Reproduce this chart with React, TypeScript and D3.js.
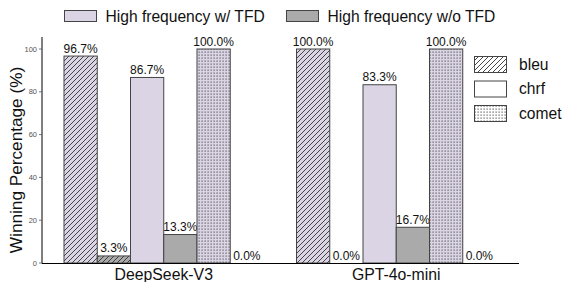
import React from "react";
import * as d3 from "d3";

const models = ["DeepSeek-V3", "GPT-4o-mini"];
const metrics = ["bleu", "chrf", "comet"];
const seriesNames = ["High frequency w/ TFD", "High frequency w/o TFD"];
const withTFD = [
  [96.7, 86.7, 100.0],
  [100.0, 83.3, 100.0],
];
const withoutTFD = [
  [3.3, 13.3, 0.0],
  [0.0, 16.7, 0.0],
];
const yTicks = [0, 20, 40, 60, 80, 100];

const seriesColors = ["#dbd4e5", "#aaaaaa"];
const FONT = "Liberation Sans, Arial, sans-serif";

export default function App() {
  const W = 562, H = 282;
  const x0 = 42, x1 = 519;
  const y = d3.scaleLinear().domain([0, 100]).range([263, 49]);
  const gx = d3.scaleBand<string>().domain(models).range([64, 496]).paddingInner(0.142).paddingOuter(0);
  const keys: string[] = [];
  metrics.forEach((m) => { keys.push(m + "|0"); keys.push(m + "|1"); });
  const ix = d3.scaleBand<string>().domain(keys).range([0, gx.bandwidth()]);

  const patFor = (m: string) => (m === "bleu" ? "url(#hatch)" : m === "comet" ? "url(#dots)" : "none");

  const bars: any[] = [];
  models.forEach((model, gi) => {
    metrics.forEach((m, mi) => {
      [withTFD[gi][mi], withoutTFD[gi][mi]].forEach((v, si) => {
        const bx = (gx(model) as number) + (ix(m + "|" + si) as number);
        bars.push({ key: model + m + si, x: bx, w: ix.bandwidth(), v, si, m });
      });
    });
  });

  return (
    <div style={{ position: "absolute", left: 0, top: 0 }}>
      <svg width={W} height={H} style={{ display: "block", background: "#fff" }} fontFamily={FONT}>
        <defs>
          <pattern id="hatch" patternUnits="userSpaceOnUse" width="5" height="5">
            <path d="M-1,1 L1,-1 M0,5 L5,0 M4,6 L6,4" stroke="#333" strokeWidth="0.9" />
          </pattern>
          <pattern id="dots" patternUnits="userSpaceOnUse" width="3" height="3">
            <rect x="0.5" y="0.5" width="1.2" height="1.2" fill="#555" />
          </pattern>
        </defs>

        {/* bars */}
        {bars.map((b) => {
          const top = y(b.v);
          const h = 263 - top;
          return (
            <g key={b.key}>
              <rect x={b.x} y={top} width={b.w} height={h} fill={seriesColors[b.si]} />
              {b.m !== "chrf" && <rect x={b.x} y={top} width={b.w} height={h} fill={patFor(b.m)} />}
              {h > 0 && (
                <rect x={b.x} y={top} width={b.w} height={h} fill="none" stroke="#444" strokeWidth={1} />
              )}
              <text x={b.x + b.w / 2} y={top - 3.5} textAnchor="middle" fontSize={12} fill="#111">
                {b.v.toFixed(1) + "%"}
              </text>
            </g>
          );
        })}

        {/* axes */}
        <line x1={x0} x2={x0} y1={37} y2={263.5} stroke="#000" strokeWidth={1} />
        <line x1={x0} x2={x1} y1={263.5} y2={263.5} stroke="#000" strokeWidth={1} />
        {yTicks.map((t) => (
          <g key={t}>
            <line x1={x0 - 3} x2={x0} y1={y(t)} y2={y(t)} stroke="#555" strokeWidth={0.8} />
            <text x={x0 - 5} y={y(t) + 2.5} textAnchor="end" fontSize={7.5} fill="#555">{t}</text>
          </g>
        ))}
        {models.map((m) => (
          <text key={m} x={(gx(m) as number) + gx.bandwidth() / 2} y={280} textAnchor="middle" fontSize={15.8} fill="#111">
            {m}
          </text>
        ))}
        <text transform="translate(22,160) rotate(-90)" textAnchor="middle" fontSize={17.2} fill="#111">
          Winning Percentage (%)
        </text>

        {/* top legend */}
        {seriesNames.map((s, i) => {
          const lx = i === 0 ? 64.5 : 286.5;
          return (
            <g key={s}>
              <rect x={lx} y={10.5} width={32} height={11} fill={seriesColors[i]} stroke="#444" strokeWidth={1} />
              <text x={lx + 41} y={21.5} fontSize={15.6} fill="#111">{s}</text>
            </g>
          );
        })}

        {/* metric legend */}
        {metrics.map((m, i) => {
          const ly = 56.5 + i * 24.5;
          return (
            <g key={m}>
              <rect x={474.5} y={ly} width={32} height={16} fill="#fff" />
              {m !== "chrf" && <rect x={474.5} y={ly} width={32} height={16} fill={patFor(m)} />}
              <rect x={474.5} y={ly} width={32} height={16} fill="none" stroke="#444" strokeWidth={1} />
              <text x={519} y={ly + 13} fontSize={15.6} fill="#111">{m}</text>
            </g>
          );
        })}
      </svg>
    </div>
  );
}
